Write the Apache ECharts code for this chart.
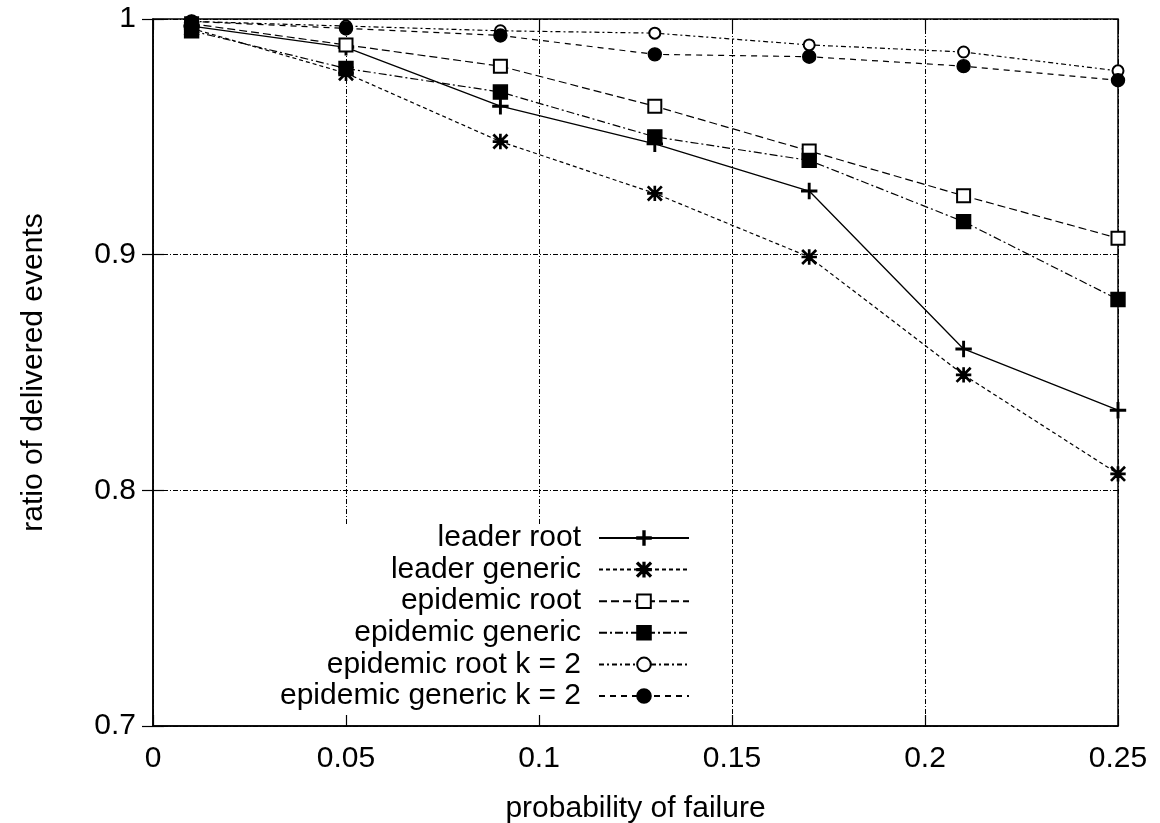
<!DOCTYPE html>
<html>
<head>
<meta charset="utf-8">
<script src="https://cdn.jsdelivr.net/npm/echarts@6/dist/echarts.min.js"></script>
<style>
  html, body { margin: 0; padding: 0; background: #fff; }
  #chart { width: 1160px; height: 823px; }
</style>
</head>
<body>
<div id="chart"></div>
<script>
'use strict';

// failure probability on the x axis
var failureProb = [0.01, 0.05, 0.09, 0.13, 0.17, 0.21, 0.25];

var seriesNames = [
    'leader root',
    'leader generic',
    'epidemic root',
    'epidemic generic',
    'epidemic root k = 2',
    'epidemic generic k = 2'
];

var leaderRoot        = [0.997, 0.988, 0.963, 0.947, 0.927, 0.860, 0.834];
var leaderGeneric     = [0.996, 0.977, 0.948, 0.926, 0.899, 0.849, 0.807];
var epidemicRoot      = [0.998, 0.989, 0.980, 0.963, 0.944, 0.925, 0.907];
var epidemicGeneric   = [0.995, 0.979, 0.969, 0.950, 0.940, 0.914, 0.881];
var epidemicRootK2    = [0.999, 0.997, 0.995, 0.994, 0.989, 0.986, 0.978];
var epidemicGenericK2 = [0.999, 0.996, 0.993, 0.985, 0.984, 0.980, 0.974];

var xTicks = [0, 0.05, 0.1, 0.15, 0.2, 0.25];
var yTicks = [0.7, 0.8, 0.9, 1];

var FONT = '"Liberation Sans", Arial, Helvetica, sans-serif';

// gnuplot-ish point glyphs
var plusPath = 'path://M0,5.4H12V6.6H0Z M5.4,0H6.6V12H5.4Z';
var starPath = 'path://M0,5.45H12V6.55H0Z M5.45,0H6.55V12H5.45Z ' +
               'M0.8,0L12,11.2L11.2,12L0,0.8Z M11.2,0L12,0.8L0.8,12L0,11.2Z';

function pairs(values) {
    return values.map(function (v, i) { return [failureProb[i], v]; });
}

function makeSeries(name, values, symbol, size, dash, width) {
    return {
        name: name,
        type: 'line',
        data: pairs(values),
        symbol: symbol,
        symbolSize: size,
        showAllSymbol: true,
        animation: false,
        itemStyle: { color: '#000', borderColor: '#000', borderWidth: 1.4 },
        lineStyle: { color: '#000', width: width || 1.2, type: dash },
        emphasis: { disabled: true }
    };
}

var series = [
    makeSeries(seriesNames[0], leaderRoot, plusPath, 15, 'solid', 1.3),
    makeSeries(seriesNames[1], leaderGeneric, starPath, 14, [4, 3]),
    makeSeries(seriesNames[2], epidemicRoot, 'emptyRect', 13, [8, 4]),
    makeSeries(seriesNames[3], epidemicGeneric, 'rect', 14, [8, 3, 2, 3]),
    makeSeries(seriesNames[4], epidemicRootK2, 'emptyCircle', 11, [5, 3, 2, 3]),
    makeSeries(seriesNames[5], epidemicGenericK2, 'circle', 13, [6, 5])
];

// one legend per entry so text lines up on the right like gnuplot's key
var legends = seriesNames.map(function (name, i) {
    return {
        data: [name],
        orient: 'vertical',
        align: 'right',
        right: 470,
        top: 523 + i * 31.6,
        padding: 0,
        itemWidth: 90,
        itemHeight: 17,
        selectedMode: false,
        textStyle: {
            color: '#000',
            fontSize: 30,
            fontFamily: FONT,
            padding: [0, 13, 0, 0]
        }
    };
});

var axisText = { color: '#000', fontSize: 30, fontFamily: FONT };
var gridDash = { color: '#000', width: 1, type: [5, 2, 1, 2] };
var tickStyle = { show: true, inside: true, length: 11, lineStyle: { color: '#000', width: 1.2 } };

var option = {
    backgroundColor: '#fff',
    animation: false,
    grid: {
        left: 153, right: 42, top: 19, bottom: 97,
        show: true, borderColor: '#000', borderWidth: 1.5,
        containLabel: false,
        outerBoundsMode: 'none'
    },
    legend: legends,
    xAxis: [{
        type: 'value',
        min: xTicks[0],
        max: xTicks[xTicks.length - 1],
        interval: 0.05,
        name: 'probability of failure',
        nameLocation: 'middle',
        nameGap: 68,
        nameTextStyle: axisText,
        axisLine: { show: true, lineStyle: { color: '#000', width: 1.5 } },
        axisTick: tickStyle,
        axisLabel: Object.assign({ margin: 18 }, axisText),
        splitLine: { show: true, lineStyle: gridDash }
    }, {
        type: 'value',
        position: 'top',
        min: xTicks[0],
        max: xTicks[xTicks.length - 1],
        interval: 0.05,
        axisLine: { show: false },
        axisTick: tickStyle,
        axisLabel: { show: false },
        splitLine: { show: false }
    }],
    yAxis: [{
        type: 'value',
        min: yTicks[0],
        max: yTicks[yTicks.length - 1],
        interval: 0.1,
        name: 'ratio of delivered events',
        nameLocation: 'middle',
        nameGap: 104,
        nameTextStyle: axisText,
        axisLine: { show: true, lineStyle: { color: '#000', width: 1.5 } },
        axisTick: tickStyle,
        axisLabel: Object.assign({ margin: 17 }, axisText),
        splitLine: { show: true, lineStyle: gridDash }
    }, {
        type: 'value',
        position: 'right',
        min: yTicks[0],
        max: yTicks[yTicks.length - 1],
        interval: 0.1,
        axisLine: { show: false },
        axisTick: tickStyle,
        axisLabel: { show: false },
        splitLine: { show: false }
    }],
    // gnuplot blanks the grid behind the key
    graphic: [{
        type: 'rect',
        left: 262,
        top: 526,
        z: 1,
        shape: { width: 440, height: 188 },
        style: { fill: '#fff' },
        silent: true
    }],
    series: series
};

var myChart = echarts.init(document.getElementById('chart'));
myChart.setOption(option);
</script>
</body>
</html>
